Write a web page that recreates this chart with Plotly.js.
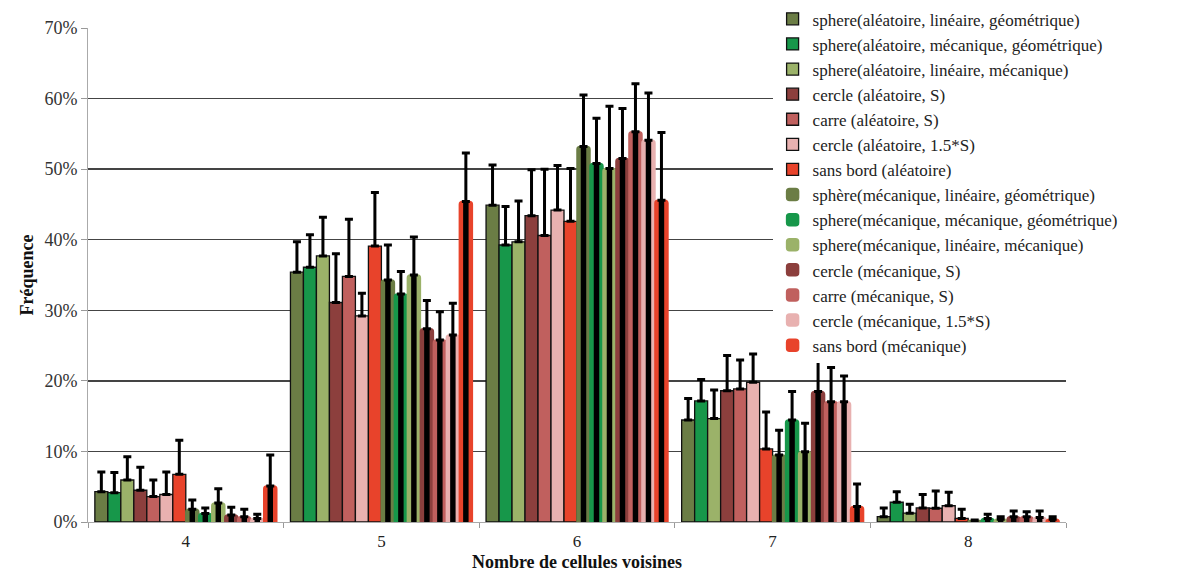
<!DOCTYPE html>
<html>
<head>
<meta charset="utf-8">
<script src="https://cdn.plot.ly/plotly-3.0.1.min.js"></script>
<style>html,body{margin:0;padding:0;background:#fff;}#chart{width:1186px;height:572px;}</style>
</head>
<body>
<div id="chart"></div>
<script>
// Categories (x axis)
const categories = ['4', '5', '6', '7', '8'];

// Series names (legend order)
const seriesNames = [
  'sphere(aléatoire, linéaire, géométrique)',
  'sphere(aléatoire, mécanique, géométrique)',
  'sphere(aléatoire, linéaire, mécanique)',
  'cercle (aléatoire, S)',
  'carre (aléatoire, S)',
  'cercle (aléatoire, 1.5*S)',
  'sans bord (aléatoire)',
  'sphère(mécanique, linéaire, géométrique)',
  'sphere(mécanique, mécanique, géométrique)',
  'sphere(mécanique, linéaire, mécanique)',
  'cercle (mécanique, S)',
  'carre (mécanique, S)',
  'cercle (mécanique, 1.5*S)',
  'sans bord (mécanique)'
];

// Values (%) for each category, in series order
const cat4Values = [4.3, 4.15, 5.95, 4.5, 3.6, 3.9, 6.75, 1.8, 1.2, 2.7, 1.0, 0.75, 0.5, 5.1];
const cat5Values = [35.4, 36.1, 37.7, 31.1, 34.8, 29.2, 39.1, 34.3, 32.3, 35.0, 27.4, 25.8, 26.5, 45.4];
const cat6Values = [44.9, 39.25, 39.7, 43.4, 40.6, 44.2, 42.6, 53.2, 50.8, 50.1, 51.5, 55.3, 54.1, 45.6];
const cat7Values = [14.45, 17.15, 14.65, 18.6, 18.85, 19.8, 10.35, 9.5, 14.45, 9.95, 18.5, 17.05, 17.05, 2.2];
const cat8Values = [0.75, 2.8, 1.25, 2.0, 1.95, 2.3, 0.5, 0.2, 0.5, 0.4, 0.75, 0.75, 0.65, 0.4];

// Error (+) for each category, in series order
const cat4Errors = [2.8, 2.85, 3.3, 3.25, 2.35, 3.2, 4.85, 1.3, 0.8, 2.0, 1.1, 1.05, 0.6, 4.4];
const cat5Errors = [4.3, 4.6, 5.5, 6.9, 8.1, 3.2, 7.6, 4.95, 3.2, 5.4, 4.0, 4.0, 4.5, 6.9];
const cat6Errors = [5.7, 5.45, 5.8, 6.5, 9.4, 6.3, 7.5, 7.3, 6.4, 8.8, 7.1, 6.8, 6.7, 9.6];
const cat7Errors = [3.05, 3.05, 4.05, 5.0, 4.1, 4.0, 5.25, 3.5, 4.05, 4.05, 4.7, 4.85, 3.65, 3.2];
const cat8Errors = [1.25, 1.5, 1.25, 1.9, 2.45, 1.9, 1.3, 0.1, 0.6, 0.35, 0.8, 0.7, 0.9, 0.35];

const yTickValues = [0, 10, 20, 30, 40, 50, 60, 70];
const yTickLabels = ['0%', '10%', '20%', '30%', '40%', '50%', '60%', '70%'];

// Styles
const baseColors = ['#6b7d45', '#17974a', '#9bb269', '#8c3f3d', '#c0605e', '#e8b1b0', '#e8432b'];

const allValues = [cat4Values, cat5Values, cat6Values, cat7Values, cat8Values];
const allErrors = [cat4Errors, cat5Errors, cat6Errors, cat7Errors, cat8Errors];

const nSeries = seriesNames.length;
const groupWidth = 0.93;
const slot = groupWidth / nSeries;
const innerW = slot * 0.42;

const traces = [];
const overlays = [];
for (let i = 0; i < nSeries; i++) {
  const y = allValues.map(v => v[i]);
  const e = allErrors.map(v => v[i]);
  const zeros = e.map(() => 0);
  const mech = i >= 7;
  const color = baseColors[i % 7];
  const off = -groupWidth / 2 + i * slot;
  const errCfg = {type: 'data', symmetric: false, array: e, arrayminus: zeros,
                  color: '#000', thickness: 3, width: 4, visible: true};
  traces.push({
    type: 'bar', x: categories, y: y, name: seriesNames[i],
    legendgroup: 'g' + i,
    offset: off, width: slot,
    marker: mech ? {color: color, line: {color: color, width: 1.5}, cornerradius: 3}
                 : {color: color, line: {color: '#111', width: 1.3}},
    error_y: mech ? {visible: false} : errCfg,
    hoverinfo: 'name+y'
  });
  if (mech) {
    overlays.push({
      type: 'bar', x: categories, y: y, name: seriesNames[i],
      legendgroup: 'g' + i, showlegend: false,
      offset: off + (slot - innerW) / 2, width: innerW,
      marker: {color: '#000', line: {width: 0}},
      error_y: errCfg,
      hoverinfo: 'skip'
    });
  }
}

const fontFam = 'Liberation Serif';

const layout = {
  width: 1186, height: 572,
  paper_bgcolor: '#fff', plot_bgcolor: '#fff',
  margin: {l: 88, r: 120, t: 28, b: 50, autoexpand: false},
  barmode: 'overlay',
  font: {family: fontFam, size: 17, color: '#333'},
  showlegend: true,
  legend: {
    x: 0.700, y: 1.054, xanchor: 'left', yanchor: 'top',
    bgcolor: '#fff', borderwidth: 0, tracegroupgap: 0, maxheight: 500,
    font: {family: fontFam, size: 17, color: '#222'}
  },
  xaxis: {
    type: 'category',
    tickson: 'boundaries', ticks: 'outside', ticklen: 5, tickcolor: '#999',
    showline: true, linecolor: '#aaa', linewidth: 1,
    showgrid: false, zeroline: false,
    ticklabelstandoff: 4,
    tickfont: {family: fontFam, size: 17, color: '#222'},
    title: {text: '<b>Nombre de cellules voisines</b>', standoff: 4,
            font: {family: fontFam, size: 18, color: '#111'}}
  },
  yaxis: {
    range: [0, 70], tickvals: yTickValues, ticktext: yTickLabels,
    ticks: 'outside', ticklen: 6, tickcolor: '#999',
    showline: true, linecolor: '#aaa', linewidth: 1,
    showgrid: true, gridcolor: '#444', gridwidth: 1.3,
    zeroline: false,
    tickfont: {family: fontFam, size: 18, color: '#333'},
    title: {text: '<b>Fréquence</b>', standoff: 6,
            font: {family: fontFam, size: 18, color: '#111'}}
  }
};

Plotly.newPlot('chart', traces.concat(overlays), layout, {displayModeBar: false, staticPlot: true});
</script>
</body>
</html>
